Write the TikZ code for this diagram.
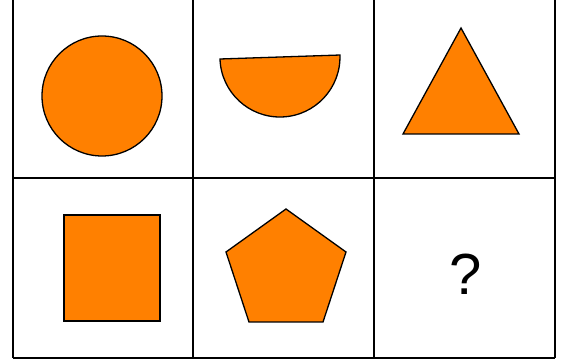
\documentclass[tikz,border=0pt]{standalone}
\usepackage{fontspec}
\setmainfont{Liberation Sans}
\definecolor{shapeorange}{HTML}{FF8000}

\begin{document}
\begin{tikzpicture}[x=1pt,y=1pt,
  gridline/.style={line width=1.4pt,black},
  figure/.style={fill=shapeorange,draw=black,line width=1.3pt,line join=miter}]
  \useasboundingbox (0,0) rectangle (565,363);
  % grid
  \coordinate (g1) at (13,5);
  \coordinate (g2) at (193,5);
  \coordinate (g3) at (374,5);
  \coordinate (g4) at (555,5);
  \foreach \gx in {13,193,374,555}
    \draw[gridline] (\gx,5) -- (\gx,363);
  \draw[gridline] (g1) -- (g4);
  \draw[gridline] (13,185) -- (555,185);
  % top row
  \coordinate (c1) at (102,267);
  \draw[figure] (c1) circle (60);
  \coordinate (h1) at (220,304);
  \draw[figure] (h1) arc[start angle=181.9,end angle=361.9,radius=60] -- cycle;
  \coordinate (t0) at (461,335);
  \coordinate (t1) at (403,229);
  \coordinate (t2) at (519,229);
  \draw[figure] (t0) -- (t1) -- (t2) -- cycle;
  % bottom row
  \coordinate (s0) at (64,42);
  \coordinate (s1) at (160,148);
  \draw[figure] (s0) rectangle (s1);
  \coordinate (q0) at (286,154);
  \coordinate (q1) at (226,111);
  \coordinate (q2) at (249,41);
  \coordinate (q3) at (323,41);
  \coordinate (q4) at (346,111);
  \draw[figure] (q0) -- (q1) -- (q2) -- (q3) -- (q4) -- cycle;
  \node (ask) at (466,89) {\fontsize{58}{60}\selectfont ?};
\end{tikzpicture}
\end{document}
